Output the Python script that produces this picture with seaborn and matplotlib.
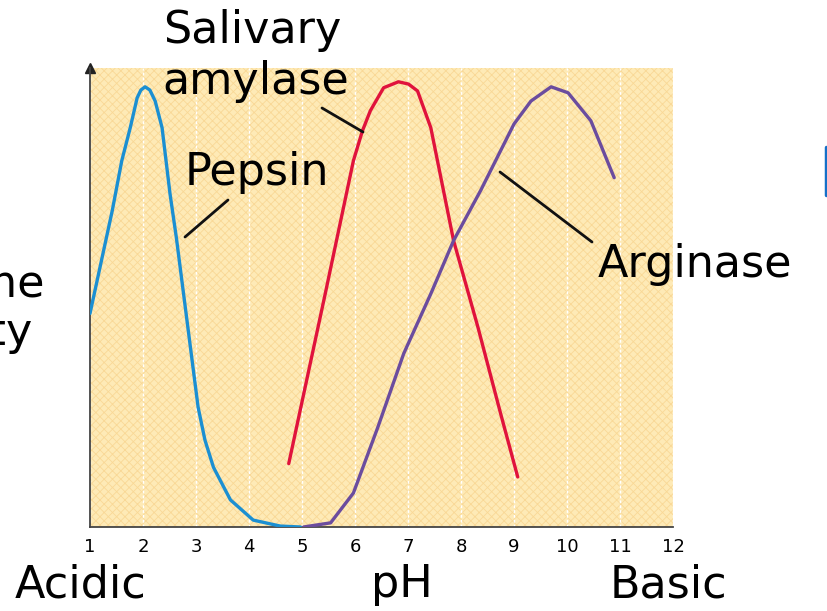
import numpy as np
import pandas as pd
import matplotlib
matplotlib.use("Agg")
import matplotlib.pyplot as plt
from matplotlib.patches import Rectangle
from matplotlib.lines import Line2D
import seaborn as sns

# values (pH, relative activity 0..1)
pepsin_ph = [1.0, 1.42, 1.60, 1.76, 1.89, 1.96, 2.04, 2.13, 2.23, 2.36, 2.51, 2.63, 3.04, 3.17,
             3.33, 3.65, 4.08, 4.59, 4.97]
pepsin_act = [0.465, 0.689, 0.798, 0.870, 0.935, 0.952, 0.959, 0.952, 0.928, 0.870, 0.726, 0.630,
              0.261, 0.189, 0.130, 0.059, 0.015, 0.002, 0.0]

amylase_ph = [4.75, 5.44, 5.97, 6.14, 6.29, 6.54, 6.67, 6.82, 7.01, 7.18, 7.43, 7.86, 8.32, 8.75, 9.07]
amylase_act = [0.138, 0.509, 0.798, 0.863, 0.907, 0.957, 0.963, 0.970, 0.965, 0.950, 0.870, 0.624,
               0.435, 0.246, 0.109]

arginase_ph = [5.03, 5.54, 5.97, 6.43, 6.92, 7.43, 7.86, 8.37, 9.00, 9.32, 9.70, 10.02, 10.45, 10.89]
arginase_act = [0.0, 0.009, 0.074, 0.217, 0.378, 0.508, 0.624, 0.733, 0.878, 0.928, 0.959, 0.946,
                0.885, 0.761]

ph_ticks = list(range(1, 13))
enzymes = ["Pepsin", "Salivary amylase", "Arginase"]
colors = ["#1b8fd2", "#e0133c", "#6b4c9e"]

df = pd.concat([
    pd.DataFrame({"pH": pepsin_ph, "activity": pepsin_act, "enzyme": "Pepsin"}),
    pd.DataFrame({"pH": amylase_ph, "activity": amylase_act, "enzyme": "Salivary amylase"}),
    pd.DataFrame({"pH": arginase_ph, "activity": arginase_act, "enzyme": "Arginase"}),
])

sns.set_theme(style="white")
plt.rcParams["font.family"] = ["DejaVu Sans"]
plt.rcParams["text.color"] = "black"
plt.rcParams["hatch.linewidth"] = 0.6

fig = plt.figure(figsize=(8.27, 6.11), dpi=100)
ax = fig.add_axes([0.1088, 0.1375, 0.705, 0.7512])
ax.set_facecolor("#feeab6")
ax.add_patch(Rectangle((0, 0), 1, 1, transform=ax.transAxes, facecolor="none",
                       edgecolor="#f9d896", hatch="xxxx", lw=0, zorder=0))

sns.lineplot(data=df, x="pH", y="activity", hue="enzyme", hue_order=enzymes,
             palette=colors, linewidth=2.4, sort=False, legend=False, ax=ax, zorder=3)

ax.set_xlim(1, 12)
ax.set_ylim(0, 1.0)
ax.set_xticks(ph_ticks)
ax.set_xticklabels([str(t) for t in ph_ticks], fontsize=13, color="black")
ax.set_yticks([])
ax.set_xlabel("")
ax.set_ylabel("")
ax.xaxis.grid(True, color="white", linestyle=(0, (2, 1.5)), linewidth=1.0)
ax.set_axisbelow(True)
ax.tick_params(axis="x", direction="in", length=10, width=1.2, color="#555555", pad=8)

for s in ["top", "right"]:
    ax.spines[s].set_visible(False)
for s in ["left", "bottom"]:
    ax.spines[s].set_color("#444444")
    ax.spines[s].set_linewidth(1.3)
ax.plot([0], [1], marker="^", color="#222222", markersize=7, transform=ax.transAxes, clip_on=False)

# curve labels and leader lines
fs = 32
fig.text(163 / 827, 1 - 43 / 611, "Salivary", fontsize=fs, va="baseline", ha="left")
fig.text(162 / 827, 1 - 94 / 611, "amylase", fontsize=fs, va="baseline", ha="left")
fig.text(185 / 827, 1 - 185 / 611, "Pepsin", fontsize=fs, va="baseline", ha="left")
fig.text(598 / 827, 1 - 277 / 611, "Arginase", fontsize=fs, va="baseline", ha="left")

for (x0, y0, x1, y1) in [(228, 200, 185, 237), (322, 108, 363, 132), (500, 172, 592, 242)]:
    fig.add_artist(Line2D([x0 / 827, x1 / 827], [1 - y0 / 611, 1 - y1 / 611], color="#111111", lw=2))

# bottom labels
fig.text(15 / 827, 1 - 597 / 611, "Acidic", fontsize=fs, va="baseline", ha="left")
fig.text(402 / 827, 1 - 597 / 611, "pH", fontsize=fs, va="baseline", ha="center")
fig.text(610 / 827, 1 - 597 / 611, "Basic", fontsize=fs, va="baseline", ha="left")

# y label, cut off at the left edge as in the reference
fig.text(45 / 827, 1 - 345 / 611, "Enzyme\nactivity", fontsize=fs, va="baseline",
         ha="right", multialignment="left", linespacing=1.15)

# cropped blue glyph at the right edge
fig.add_artist(Line2D([826 / 827, 826 / 827], [1 - 147 / 611, 1 - 195 / 611], color="#1570c8", lw=2.5))

fig.savefig("out.png", dpi=100)
